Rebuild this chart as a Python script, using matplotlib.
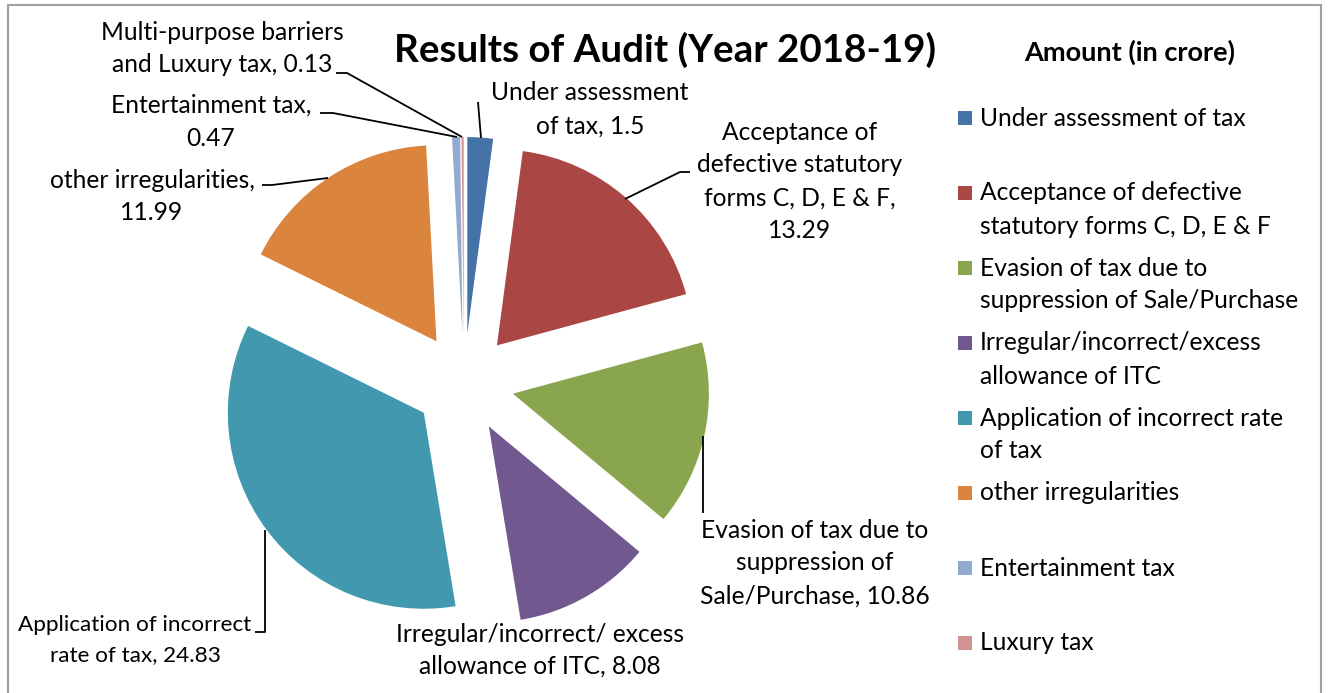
import matplotlib
matplotlib.use("Agg")
import matplotlib.pyplot as plt
from matplotlib.patches import Rectangle

plt.rcParams['font.family'] = ['Lato', 'DejaVu Sans']

# ---- data ----
categories = ["Under assessment of tax",
              "Acceptance of defective statutory forms C, D, E & F",
              "Evasion of tax due to suppression of Sale/Purchase",
              "Irregular/incorrect/excess allowance of ITC",
              "Application of incorrect rate of tax",
              "other irregularities",
              "Entertainment tax",
              "Luxury tax"]
values = [1.5, 13.29, 10.86, 8.08, 24.83, 11.99, 0.47, 0.13]
colors = ["#4572A7", "#AA4643", "#89A54E", "#71588F", "#4198AF", "#DB843D", "#93A9CF", "#D19392"]
legend_labels = ["Under assessment of tax",
                 "Acceptance of defective\nstatutory forms C, D, E & F",
                 "Evasion of tax due to\nsuppression of Sale/Purchase",
                 "Irregular/incorrect/excess\nallowance of ITC",
                 "Application of incorrect rate\nof tax",
                 "other irregularities",
                 "Entertainment tax",
                 "Luxury tax"]
data_label_names = ["Under assessment\nof tax, ",
                    "Acceptance of\ndefective statutory\nforms C, D, E & F,\n",
                    "Evasion of tax due to\nsuppression of\nSale/Purchase, ",
                    "Irregular/incorrect/ excess\nallowance of ITC, ",
                    "Application of incorrect\nrate of tax, ",
                    "other irregularities,\n",
                    "Entertainment tax,\n",
                    "Multi-purpose barriers\nand Luxury tax, "]
title = "Results of Audit (Year 2018-19)"
legend_title = "Amount (in crore)"

W, H = 1328, 693
CX, CY, R = 464, 383, 196  # pie centre / radius in pixels
EXPLODE_PX = 50

fig = plt.figure(figsize=(W / 100, H / 100), dpi=100)
ax = fig.add_axes([0, 0, 1, 1])


def P(x, y):
    return ((x - CX) / R, (CY - y) / R)


ax.pie(values, colors=colors, startangle=90, counterclock=False,
       explode=[EXPLODE_PX / R] * len(values), radius=1, center=(0, 0),
       wedgeprops=dict(linewidth=0))
ax.set_xlim(-CX / R, (W - CX) / R)
ax.set_ylim(-(H - CY) / R, CY / R)
ax.set_aspect('auto')
ax.axis('off')

# border
ax.add_patch(Rectangle(P(8, 720), (1321 - 8) / R, (720 - 5) / R, fill=False,
                       edgecolor="#A0A0A0", linewidth=1.5, clip_on=False))

# title
ax.text(*P(665, 50), title, ha='center', va='center', fontsize=27.7, fontweight='bold')
ax.text(*P(1130, 52), legend_title, ha='center', va='center', fontsize=19.5, fontweight='bold')


def multiline(x, y, text, fs, ha='center', step=33):
    for k, line in enumerate(text.split("\n")):
        ax.text(*P(x, y + step * k), line, ha=ha, va='center', fontsize=fs)


# legend
fs_leg = 17.7
for i, (lab, col) in enumerate(zip(legend_labels, colors)):
    y = 118 + 75 * i
    ax.add_patch(Rectangle(P(958, y + 7), 14 / R, 14 / R, facecolor=col, edgecolor='none'))
    multiline(980, y, lab, fs_leg, ha='left')

# data labels
fs = 17.7


def fmt(v):
    return "%g" % v

label_pos = [(590, 93, fs, 33), (800, 132, fs, 33), (815, 530, fs, 33), (540, 635, fs, 31),
             (135, 625, 16.2, 30), (152, 180, fs, 33), (211, 105, fs, 33), (222, 32, fs, 33)]
for (x, y, f, st), name, v in zip(label_pos, data_label_names, values):
    multiline(x, y, name + fmt(v), f, step=st)

# leader lines (pixel paths)
leaders = [
    [(481, 138), (478, 102)],
    [(625, 199), (680, 172), (690, 172)],
    [(703, 436), (703, 513)],
    [(265, 530), (265, 632), (255, 632)],
    [(262, 185), (272, 185), (328, 178)],
    [(320, 113), (333, 113), (457, 137)],
    [(336, 73), (347, 73), (462, 137)],
]
for path in leaders:
    xs, ys = zip(*[P(px, py) for px, py in path])
    ax.plot(xs, ys, color='black', linewidth=1.3, solid_capstyle='butt')

fig.savefig("out.png", dpi=100)
